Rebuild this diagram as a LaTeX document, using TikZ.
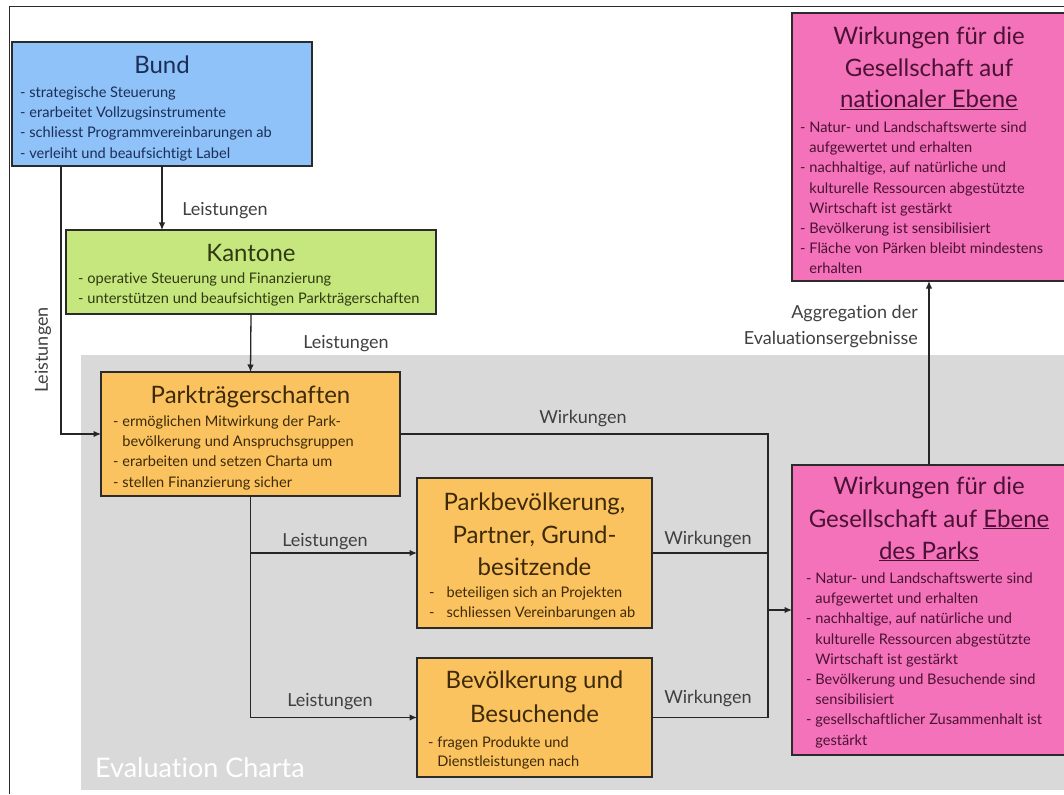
\documentclass[tikz,border=0pt]{standalone}
\usepackage{fontspec}
\setmainfont{Lato}[Ligatures=NoCommon]
\usetikzlibrary{arrows.meta,calc}
\definecolor{bundfill}{HTML}{8EC2F9}
\definecolor{kantfill}{HTML}{C6E77D}
\definecolor{orfill}{HTML}{FAC35F}
\definecolor{pinkfill}{HTML}{F372B9}
\definecolor{evalfill}{HTML}{D9D9D9}
\definecolor{boxline}{HTML}{2B2B2B}
\definecolor{connc}{HTML}{262626}
\definecolor{lblc}{HTML}{404040}
\definecolor{bundtxt}{HTML}{1C2E55}
\definecolor{kanttxt}{HTML}{2E3A12}
\definecolor{ortxt}{HTML}{3E2A08}
\definecolor{pinktxt}{HTML}{4A1234}
\begin{document}
\begin{tikzpicture}[x=1pt,y=-1pt,
  box/.style={draw=boxline, line width=1.4pt, inner sep=0pt, outer sep=0pt, anchor=north west},
  conn/.style={draw=connc, line width=1.3pt},
  arr/.style={conn, -{Latex[length=7.5pt,width=6.5pt]}},
  title/.style={font=\fontsize{24}{32}\selectfont, inner sep=0pt, anchor=base},
  items/.style={font=\fontsize{14.6}{20.2}\selectfont, inner sep=0pt, anchor=north west, align=left},
  lbl/.style={font=\fontsize{18}{26}\selectfont, text=lblc, inner sep=0pt, anchor=base}]
\useasboundingbox (0,0) rectangle (1064,794);
% frame
\draw[boxline, line width=1pt] (9,794) -- (9,7) -- (1064,7);
% evaluation background
\node[anchor=north west, fill=evalfill, inner sep=0pt, minimum width=985pt, minimum height=435pt] (evalbg) at (81,355) {};
\node[anchor=base west, inner sep=0pt, text=white, font=\fontsize{27}{32}\selectfont] (evallbl) at (95,777) {Evaluation Charta};
% boxes
\node[box, fill=bundfill, minimum width=300pt, minimum height=124pt] (bund) at (12,42) {};
\node[box, fill=kantfill, minimum width=370pt, minimum height=84pt] (kantone) at (66,230) {};
\node[box, fill=orfill, minimum width=299pt, minimum height=124pt] (park) at (101,372) {};
\node[box, fill=orfill, minimum width=235pt, minimum height=150pt] (parkbev) at (417,478) {};
\node[box, fill=orfill, minimum width=235pt, minimum height=119pt] (bev) at (417,658) {};
\node[box, fill=pinkfill, minimum width=274pt, minimum height=290pt] (wpark) at (792,465) {};
\node[box, fill=pinkfill, minimum width=274pt, minimum height=268pt] (wnat) at (792,13) {};
% Bund text
\node[title, text=bundtxt] (bundT) at (162,74) {Bund};
\node[items, text=bundtxt] (bundI) at (20,86.5) {- strategische Steuerung\\- erarbeitet Vollzugsinstrumente\\- schliesst Programmvereinbarungen ab\\- verleiht und beaufsichtigt Label};
% Kantone text
\node[title, text=kanttxt] (kantT) at (251,261) {Kantone};
\node[items, text=kanttxt] (kantI) at (78,272.5) {- operative Steuerung und Finanzierung\\- unterstützen und beaufsichtigen Parkträgerschaften};
% Park text
\node[title, text=ortxt] (parkT) at (250.5,403) {Parkträgerschaften};
\node[items, text=ortxt] (parkI) at (113,415.5) {- ermöglichen Mitwirkung der Park-\\\hphantom{- }bevölkerung und Anspruchsgruppen\\- erarbeiten und setzen Charta um\\- stellen Finanzierung sicher};
% Parkbev text
\node[title, text=ortxt] (pbT1) at (534.5,510) {Parkbevölkerung,};
\node[title, text=ortxt] (pbT2) at (534.5,543) {Partner, Grund-};
\node[title, text=ortxt] (pbT3) at (534.5,575) {besitzende};
\node[items, text=ortxt] (pbI) at (429,586.5) {-\hspace{12pt}beteiligen sich an Projekten\\-\hspace{12pt}schliessen Vereinbarungen ab};
% Bev text
\node[title, text=ortxt] (bvT1) at (534.5,688) {Bevölkerung und};
\node[title, text=ortxt] (bvT2) at (534.5,722) {Besuchende};
\node[items, text=ortxt, font=\fontsize{14.6}{19}\selectfont] (bvI) at (428,736.5) {- fragen Produkte und\\\hphantom{- }Dienstleistungen nach};
% Wirkungen Park text
\node[title, text=pinktxt] (wpT1) at (929,494) {Wirkungen für die};
\node[title, text=pinktxt] (wpT2) at (929,527) {Gesellschaft auf \underline{Ebene}};
\node[title, text=pinktxt] (wpT3) at (929,559) {\underline{des Parks}};
\node[items, text=pinktxt] (wpI) at (806,572.5) {- Natur- und Landschaftswerte sind\\\hphantom{- }aufgewertet und erhalten\\- nachhaltige, auf natürliche und\\\hphantom{- }kulturelle Ressourcen abgestützte\\\hphantom{- }Wirtschaft ist gestärkt\\- Bevölkerung und Besuchende sind\\\hphantom{- }sensibilisiert\\- gesellschaftlicher Zusammenhalt ist\\\hphantom{- }gestärkt};
% Wirkungen national text
\node[title, text=pinktxt] (wnT1) at (929,45) {Wirkungen für die};
\node[title, text=pinktxt] (wnT2) at (929,77) {Gesellschaft auf};
\node[title, text=pinktxt] (wnT3) at (929,108) {\underline{nationaler Ebene}};
\node[items, text=pinktxt] (wnI) at (800,121.5) {- Natur- und Landschaftswerte sind\\\hphantom{- }aufgewertet und erhalten\\- nachhaltige, auf natürliche und\\\hphantom{- }kulturelle Ressourcen abgestützte\\\hphantom{- }Wirtschaft ist gestärkt\\- Bevölkerung ist sensibilisiert\\- Fläche von Pärken bleibt mindestens\\\hphantom{- }erhalten};
% connectors
\coordinate (jn) at (768,610);
\draw[arr] (bund.south) -- (bund.south |- kantone.north);
\draw[arr] ($(bund.south west)+(49,0)$) |- (park.west);
\draw[arr] (kantone.south) -- (park.north);
\draw[arr] (park.south) |- (parkbev.west);
\draw[arr] (park.south) |- (bev.west);
\draw[conn] (park.east) -| (jn);
\draw[conn] (parkbev.east) -| (jn);
\draw[conn] (bev.east) -| (jn);
\draw[arr] (jn) -- (wpark.west);
\draw[arr] (wpark.north) -- (wpark.north |- wnat.south);
% labels
\node[lbl] (l1) at (225,215) {Leistungen};
\node[lbl, rotate=90, anchor=center] (l2) at (43,350) {Leistungen};
\node[lbl] (l3) at (346,348) {Leistungen};
\node[lbl] (l4) at (325,546) {Leistungen};
\node[lbl] (l5) at (330,706) {Leistungen};
\node[lbl] (w1) at (583,423) {Wirkungen};
\node[lbl] (w2) at (708,544) {Wirkungen};
\node[lbl] (w3) at (708,703) {Wirkungen};
\node[lbl, anchor=base east] (agg1) at (918,318) {Aggregation der};
\node[lbl, anchor=base east] (agg2) at (918,344) {Evaluationsergebnisse};
\end{tikzpicture}
\end{document}
